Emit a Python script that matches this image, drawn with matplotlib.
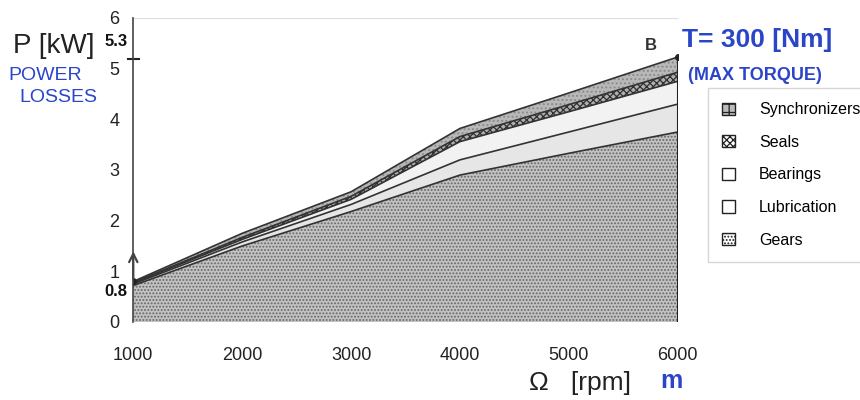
import matplotlib
matplotlib.use('Agg')
import matplotlib.pyplot as plt
from matplotlib.patches import Patch
import numpy as np

plt.rcParams['font.family'] = ['Liberation Sans', 'DejaVu Sans']
plt.rcParams['hatch.linewidth'] = 0.9

# speed [rpm]
speed = [1000, 2000, 3000, 4000, 5000, 6000]
# power losses per component [kW] (stacked from bottom)
gears = [0.72, 1.50, 2.18, 2.90, 3.33, 3.75]
lubrication = [0.03, 0.08, 0.14, 0.30, 0.42, 0.55]
bearings = [0.02, 0.05, 0.10, 0.36, 0.40, 0.45]
seals = [0.01, 0.04, 0.06, 0.10, 0.14, 0.18]
synchronizers = [0.02, 0.08, 0.09, 0.16, 0.23, 0.30]

names = ['Gears', 'Lubrication', 'Bearings', 'Seals', 'Synchronizers']
faces = ['#c2c2c2', '#e6e6e6', '#f2f2f2', '#b0b0b0', '#b8b8b8']
hatches = ['.....', None, None, 'xxxxx', '....']
hatch_cols = ['#666666', 'none', 'none', '#303030', '#8a8a8a']

blue = '#2a45c8'

fig = plt.figure(figsize=(8.6, 4.0), dpi=100)
ax = fig.add_axes([0.155, 0.195, 0.633, 0.76])

layers = [gears, lubrication, bearings, seals, synchronizers]
base = np.zeros(len(speed))
for vals, fc, h, hc in zip(layers, faces, hatches, hatch_cols):
    top = base + np.array(vals)
    ax.fill_between(speed, base, top, facecolor=fc, hatch=h, edgecolor=hc, linewidth=0)
    ax.plot(speed, top, color='#333333', lw=1.2)
    base = top

# right edge of the area
ax.plot([speed[-1], speed[-1]], [0, base[-1]], color='#222222', lw=1.5)
ax.plot([speed[0], speed[-1]], [base[0], base[-1]], ls='none', marker='o', ms=4, color='#222222')

ax.set_xlim(1000, 6000)
ax.set_ylim(0, 6)
ax.set_xticks(speed)
ax.set_yticks(range(7))
ax.tick_params(axis='both', length=0, labelsize=13, colors='#222222')
ax.tick_params(axis='x', pad=18)
ax.tick_params(axis='y', pad=10)
for s in ['top', 'right', 'bottom']:
    ax.spines[s].set_visible(False)
ax.spines['left'].set_color('#444444')
ax.spines['left'].set_linewidth(1.2)
ax.axhline(6, color='#dddddd', lw=0.8)

# handwritten marks
ax.annotate('', xy=(1000, 1.45), xytext=(1000, 0.8),
            arrowprops=dict(arrowstyle='->', color='#444444', lw=1.6, mutation_scale=15))
ax.plot([950, 1050], [5.2, 5.2], color='#222222', lw=1.5, clip_on=False)

fig.text(0.015, 0.885, 'P [kW]', fontsize=20, color='#222222', va='center')
fig.text(0.135, 0.895, '5.3', fontsize=12, fontweight='bold', color='#111111', va='center', ha='center')
fig.text(0.01, 0.812, 'POWER', fontsize=14, color=blue, va='center')
fig.text(0.022, 0.757, 'LOSSES', fontsize=14, color=blue, va='center')
fig.text(0.135, 0.272, '0.8', fontsize=12, fontweight='bold', color='#111111', va='center', ha='center')
fig.text(0.757, 0.885, 'B', fontsize=12, fontweight='bold', color='#333333', va='center', ha='center')
fig.text(0.793, 0.9, 'T= 300 [Nm]', fontsize=19, color=blue, va='center', fontweight='bold')
fig.text(0.8, 0.812, '(MAX TORQUE)', fontsize=13, color=blue, va='center', fontweight='bold')
fig.text(0.615, 0.042, '\u03a9   [rpm]', fontsize=19, color='#222222', va='center')
fig.text(0.768, 0.047, 'm', fontsize=18, color=blue, va='center', fontweight='bold')

handles = [Patch(facecolor='white', edgecolor='#222222', hatch=h, label=n)
           for n, h in zip(names, hatches)]
handles = handles[::-1]
handles[0] = Patch(facecolor='#bbbbbb', edgecolor='#222222', hatch='++', label='Synchronizers')
leg = fig.legend(handles=handles, loc='upper left', bbox_to_anchor=(0.814, 0.80),
                 fontsize=11.5, frameon=True, fancybox=False, edgecolor='#cccccc',
                 handlelength=0.8, handleheight=0.8, handletextpad=1.5,
                 labelspacing=1.1, borderpad=0.9)
leg.get_frame().set_linewidth(1.0)

fig.savefig('out.png', dpi=100)
